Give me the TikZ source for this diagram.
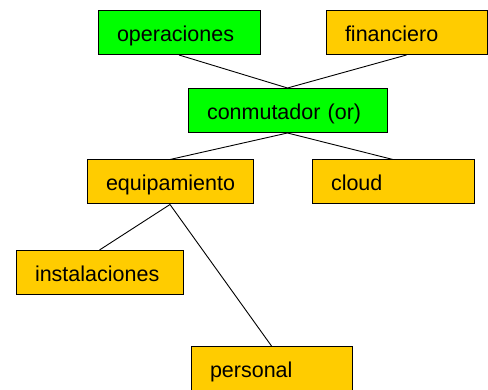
\documentclass[tikz,border=0pt]{standalone}
\usepackage{fontspec}
\setmainfont{Liberation Sans}
\definecolor{boxgreen}{RGB}{0,255,0}
\definecolor{boxorange}{RGB}{255,204,0}
\begin{document}
\begin{tikzpicture}[x=1pt,y=-1pt,
  box/.style={draw=black,line width=1pt,rectangle,minimum height=44pt,
    inner xsep=19pt,inner ysep=0pt,text height=18pt,text depth=0pt,
    align=left,font=\fontsize{21.5}{24}\selectfont},
  greenbox/.style={box,fill=boxgreen},
  orangebox/.style={box,fill=boxorange},
  link/.style={draw=black,line width=0.9pt}]
\useasboundingbox (0,0) rectangle (488,390);
\node[greenbox,text width=124pt] (oper) at (179,32.5) {operaciones};
\node[orangebox,text width=123pt] (fin) at (406.5,32.5) {financiero};
\node[greenbox,text width=161pt] (conm) at (287.5,110.5) {conmutador (or)};
\node[orangebox,text width=128pt] (equip) at (170,182) {equipamiento};
\node[orangebox,text width=124pt] (cloud) at (393,182) {cloud};
\node[orangebox,text width=129pt] (inst) at (99.5,272.5) {instalaciones};
\node[orangebox,text width=123pt] (pers) at (271.5,368.5) {personal};
\draw[link] (oper.south) -- (conm.north);
\draw[link] (fin.south) -- (conm.north);
\draw[link] (conm.south) -- (equip.north);
\draw[link] (conm.south) -- (cloud.north);
\draw[link] (equip.south) -- (inst.north);
\draw[link] (equip.south) -- (pers.north);
\end{tikzpicture}
\end{document}
